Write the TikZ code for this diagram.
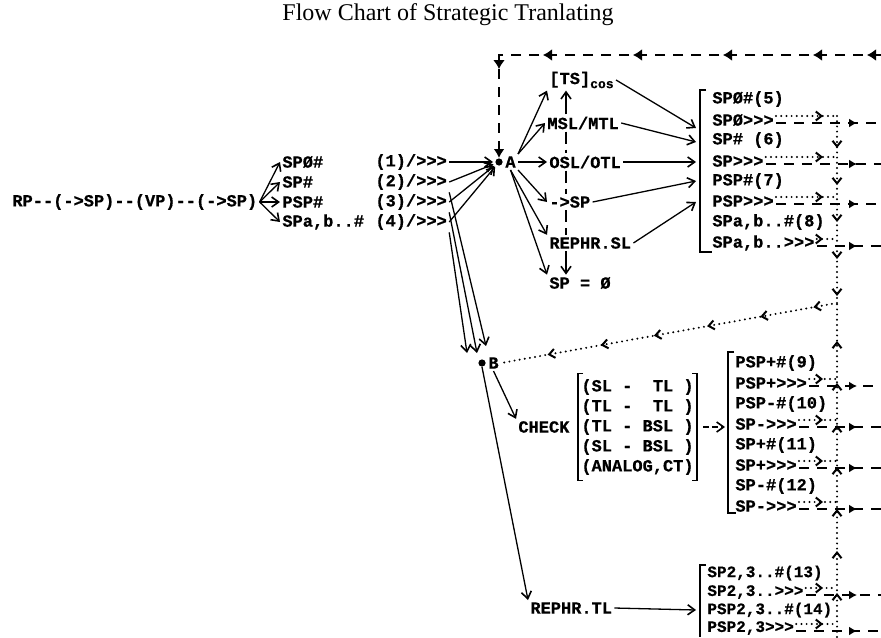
\documentclass[tikz,border=0pt]{standalone}
\usepackage{fontspec}
\setmainfont{Liberation Serif}
\setmonofont{Liberation Mono}[BoldFeatures={FakeBold=0.6}]
\usetikzlibrary{arrows.meta, decorations.markings, calc}

\tikzstyle{lbl}=[font=\ttfamily\bfseries\fontsize{8.5}{10}\selectfont, inner sep=1pt, anchor=west]
\tikzstyle{lblsmall}=[lbl, font=\ttfamily\bfseries\fontsize{8}{9.25}\selectfont]
\tikzstyle{hub}=[circle, fill, inner sep=0pt, minimum size=3.6pt]
\tikzstyle{go}=[-{Straight Barb[length=3.5pt,width=5pt,line width=0.8pt]}, line width=0.65pt]
\tikzstyle{back}=[line width=1pt, dash pattern=on 5pt off 4pt]
\tikzstyle{dotline}=[line width=1.1pt, line cap=round, dash pattern=on 0pt off 2.6pt]
\tikzset{
  chevrons/.style={postaction={decorate}, decoration={markings,
    mark=between positions #1 with {\arrow{Straight Barb[length=2.8pt,width=4.5pt,line width=1pt]}}}},
  chevron at/.style={postaction={decorate}, decoration={markings,
    mark=at position #1 with {\arrow{Straight Barb[length=2.8pt,width=4.5pt,line width=1pt]}}}},
  head at/.style={postaction={decorate}, decoration={markings,
    mark=at position #1 with {\arrow{Latex[length=4pt,width=4.5pt]}}}}
}
\newcommand{\lbl}{\node[lbl]}

\begin{document}
\begin{tikzpicture}[x=0.5pt, y=-0.5pt]
\useasboundingbox (0,0) rectangle (881,637);
%title
\node[font=\fontsize{12}{14}\selectfont] (title) at (448,15) {Flow Chart of Strategic Tranlating};
%start
\lbl (rp) at (10,202) {RP--(->SP)--(VP)--(->SP)};
\lbl (c1) at (280,162) {SPØ\#};
\lbl (c2) at (280,182) {SP\#};
\lbl (c3) at (280,202) {PSP\#};
\lbl (c4) at (280,222) {SPa,b..\#};
\foreach \i in {1,...,4}{
	\lbl (n\i) at (373,142+20*\i) {(\i)/>>>};
	\draw[go] (rp.east) -- (c\i.west);}
%hubs
\node[hub] (A) at (499,162) {};
\lbl (Al) at (A.east) {A};
\node[hub] (B) at (482,363) {};
\lbl (Bl) at (B.east) {B};
\foreach \i in {1,...,4}{
	\draw[go, shorten >=1pt] (n\i.east) -- (A);}
\draw[go] (n2.south east) -- ($(B)+(4,-17)$);
\draw[go] (n3.south east) -- ($(B)+(-5,-10)$);
\draw[go] (n4.south east) -- ($(B)+(-15,-10)$);
%A fan
\lbl (ts) at (547,80) {[TS]\raisebox{-2pt}{\fontsize{6.5}{6.5}\selectfont cos}};
\lbl (msl) at (545,123) {MSL/MTL};
\lbl (osl) at (547,162) {OSL/OTL};
\lbl (tosp) at (547,202) {->SP};
\lbl (rsl) at (547,243) {REPHR.SL};
\lbl (spnull) at (547,283) {SP~=~Ø};
\draw[go] (Al.north east) -- (ts.south west);
\draw[go] (Al.north east) -- (msl.west);
\draw[go] (Al.east) -- (osl.west);
\draw[go] (Al.south east) -- (tosp.west);
\draw[go] (Al.south) -- (rsl.north west);
\draw[go] (Al.south) -- (spnull.north west);
\coordinate (mid) at (566,0);
\draw[go] (mid |- msl.north) -- (mid |- ts.south);
\draw[line width=0.6pt, dash pattern=on 6pt off 3pt] (mid |- msl.south) -- (mid |- osl.north);
\draw[line width=0.6pt, dash pattern=on 6pt off 3pt] (mid |- osl.south) -- (mid |- tosp.north);
\draw[line width=0.6pt, dash pattern=on 6pt off 3pt] (mid |- tosp.south) -- (mid |- rsl.north);
\draw[go] (mid |- rsl.south) -- (mid |- spnull.north);
%first list
\draw[line width=0.7pt] (706,90) -- (700,90) -- (700,252) -- (712,252);
\lbl (p1) at (710,99) {SPØ\#(5)};
\lbl (p2) at (710,120) {SPØ>>>};
\lbl (p3) at (710,140) {SP\#~(6)};
\lbl (p4) at (710,161) {SP>>>};
\lbl (p5) at (710,181) {PSP\#(7)};
\lbl (p6) at (710,201) {PSP>>>};
\lbl (p7) at (710,222) {SPa,b..\#(8)};
\lbl (p8) at (710,243) {SPa,b..>>>};
\foreach \y [count=\i] in {128,142,162,181,202}{
	\coordinate (pin\i) at (696,\y);}
\draw[go] (ts.east) -- (pin1);
\draw[go] (msl.east) -- (pin2);
\draw[go] (osl.east) -- (pin3);
\draw[go] (tosp.east) -- (pin4);
\draw[go] (rsl.east) -- (pin5);
%check
\lbl (check) at (516,427) {CHECK};
\node[lbl, align=left, inner xsep=1.5pt, inner ysep=2.5pt] (cmat) at (578,427)
	{(SL~-~~TL~)\\(TL~-~~TL~)\\(TL~-~BSL~)\\(SL~-~BSL~)\\(ANALOG,CT)};
\draw[line width=0.7pt] ($(cmat.north west)+(5,0)$) -- (cmat.north west) -- (cmat.south west) -- ++(5,0);
\draw[line width=0.7pt] ($(cmat.north east)+(-5,0)$) -- (cmat.north east) -- (cmat.south east) -- ++(-5,0);
\draw[go] (Bl.south) -- (check.north west);
%second list
\draw[line width=0.7pt] (734,352) -- (728,352) -- (728,513) -- (736,513);
\lbl (q1) at (733,363) {PSP+\#(9)};
\lbl (q2) at (733,383) {PSP+>>>};
\lbl (q3) at (733,404) {PSP-\#(10)};
\lbl (q4) at (733,424) {SP->>>};
\lbl (q5) at (733,445) {SP+\#(11)};
\lbl (q6) at (733,465) {SP+>>>};
\lbl (q7) at (733,486) {SP-\#(12)};
\lbl (q8) at (733,506) {SP->>>};
\coordinate (qin) at (725,427);
\draw[go, dash pattern=on 3pt off 1.5pt] ($(cmat.east)+(6,0)$) -- (qin);
%rephrase
\lbl (rtl) at (528,608) {REPHR.TL};
\draw[go] (B.south) -- (rtl.north west);
\draw[line width=0.7pt] (706,565) -- (700,565) -- (700,637);
\lbl[lblsmall] (t1) at (705,573) {SP2,3..\#(13)};
\lbl[lblsmall] (t2) at (705,592) {SP2,3..>>>};
\lbl[lblsmall] (t3) at (705,610) {PSP2,3..\#(14)};
\lbl[lblsmall] (t4) at (705,628) {PSP2,3>>>};
\coordinate (tin) at (696,610);
\draw[go] (rtl.east) -- (tin);
%dotted collector
\coordinate (vtop) at (837,116);
\coordinate (vjoin) at (837,303);
\coordinate (vbot) at (837,637);
\coordinate (edge) at (881,0);
\draw[dotline, chevrons={16pt and 92pt step 18.5pt}] (vtop) -- (vjoin);
\draw[dotline, chevrons={22pt and 160pt step 21pt}] (vbot) -- (vjoin);
\draw[dotline, chevrons={12pt and 165pt step 27pt}] (vjoin) -- (Bl.east);
\foreach \r in {p2,p4,p6,p8,q2,q4,q6,q8,t2,t4}{
	\draw[dotline, chevron at=-7pt] ([yshift=2pt]\r.east) -- ([yshift=2pt]\r.east -| vtop);
	\draw[back, head at=-12pt] ([yshift=-1.5pt]\r.east) -- ([yshift=-1.5pt]\r.east -| edge);}
%return loop
\coordinate (loopr) at (881,55);
\coordinate (loopl) at (499,55);
\draw[back, -{Latex[length=4.5pt,width=5.5pt]}, postaction={decorate}, decoration={markings,
	mark=at position 7pt with {\arrow{Latex[length=4.5pt,width=6pt]}},
	mark=at position 34pt with {\arrow{Latex[length=4.5pt,width=6pt]}},
	mark=at position 79pt with {\arrow{Latex[length=4.5pt,width=6pt]}},
	mark=at position 124pt with {\arrow{Latex[length=4.5pt,width=6pt]}},
	mark=at position 169pt with {\arrow{Latex[length=4.5pt,width=6pt]}},
	mark=at position 198pt with {\arrow{Latex[length=4.5pt,width=6pt]}}}]
	(loopr) -- (loopl) -- (A);
\end{tikzpicture}
\end{document}
